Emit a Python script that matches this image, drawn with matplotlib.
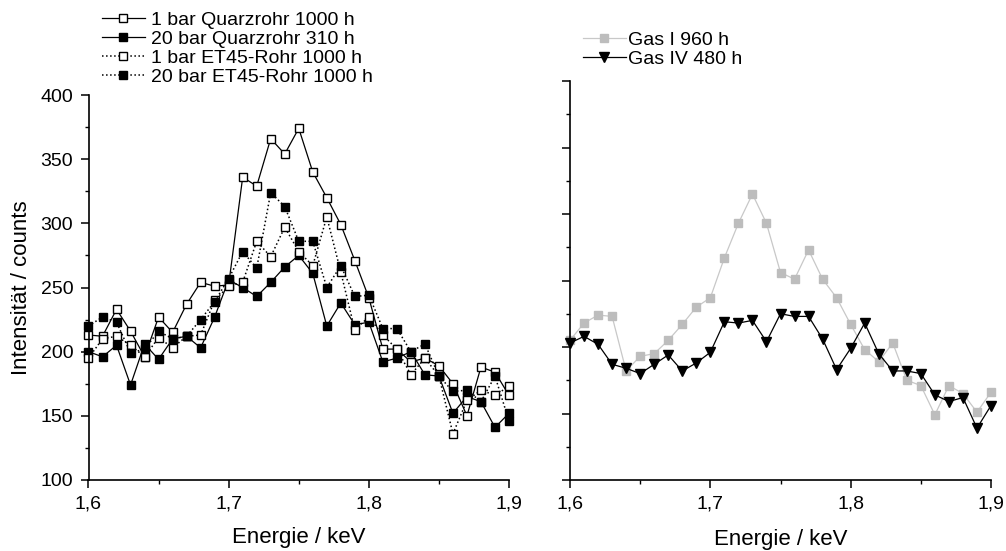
import matplotlib
matplotlib.use('Agg')
import matplotlib.pyplot as plt
from matplotlib.ticker import MultipleLocator, FuncFormatter, NullFormatter

plt.rcParams['font.family'] = ['Liberation Sans', 'DejaVu Sans']

# Energy axis (keV)
energy = [1.60, 1.61, 1.62, 1.63, 1.64, 1.65, 1.66, 1.67, 1.68, 1.69, 1.70,
          1.71, 1.72, 1.73, 1.74, 1.75, 1.76, 1.77, 1.78, 1.79, 1.80,
          1.81, 1.82, 1.83, 1.84, 1.85, 1.86, 1.87, 1.88, 1.89, 1.90]

# Left panel series (counts)
quarz_1bar = [213, 212, 233, 216, 196, 227, 215, 237, 254, 251, 252,
              336, 329, 366, 354, 374, 340, 320, 299, 271, 242,
              202, 202, 192, 195, 189, 175, 150, 188, 184, 166]
quarz_20bar = [200, 196, 205, 174, 206, 194, 210, 212, 203, 227, 256,
               250, 243, 254, 266, 275, 261, 220, 238, 221, 223,
               192, 195, 200, 182, 181, 152, 165, 161, 141, 152]
et45_1bar = [195, 210, 212, 205, 196, 211, 203, 212, 213, 240, 251,
             254, 286, 274, 297, 278, 267, 305, 262, 217, 227,
             213, 202, 182, 195, 181, 136, 162, 170, 166, 173]
et45_20bar = [220, 227, 223, 199, 202, 216, 210, 212, 225, 239, 257,
              278, 265, 324, 313, 286, 286, 250, 267, 243, 244,
              218, 218, 200, 206, 181, 169, 170, 161, 181, 146]

# Right panel series
gas1 = [205, 218, 224, 223, 182, 193, 195, 205, 217, 230, 237,
        267, 293, 315, 293, 256, 251, 273, 251, 237, 217,
        198, 189, 203, 175, 171, 149, 171, 165, 151, 166]
gas4 = [203, 208, 202, 187, 184, 180, 187, 194, 182, 188, 196,
        219, 218, 220, 204, 225, 223, 223, 206, 183, 199,
        218, 195, 182, 182, 180, 164, 159, 162, 139, 156]

left_labels = ['1 bar Quarzrohr 1000 h', '20 bar Quarzrohr 310 h',
               '1 bar ET45-Rohr 1000 h', '20 bar ET45-Rohr 1000 h']
right_labels = ['Gas I 960 h', 'Gas IV 480 h']
xlabel = 'Energie / keV'
ylabel = 'Intensität / counts'

W, H = 1006, 551
fig = plt.figure(figsize=(W / 100, H / 100), dpi=100)

def px(x0, y_top, x1, y_bot):
    return [x0 / W, 1 - y_bot / H, (x1 - x0) / W, (y_bot - y_top) / H]

axL = fig.add_axes(px(88.5, 95, 509, 480))
axR = fig.add_axes(px(570, 81, 991, 480))

ms = 6
lw = 0.9
hL = []
hL += axL.plot(energy, quarz_1bar, '-', color='black', lw=lw, marker='s', ms=ms,
               mfc='white', mec='black', mew=1.0, clip_on=False)
hL += axL.plot(energy, quarz_20bar, '-', color='black', lw=lw, marker='s', ms=ms,
               mfc='black', mec='black', clip_on=False)
hL += axL.plot(energy, et45_1bar, ':', color='black', lw=1.1, marker='s', ms=ms,
               mfc='white', mec='black', mew=1.0, clip_on=False)
hL += axL.plot(energy, et45_20bar, ':', color='black', lw=1.1, marker='s', ms=ms,
               mfc='black', mec='black', clip_on=False)

hR = []
hR += axR.plot(energy, gas1, '-', color='#c8c8c8', lw=lw, marker='s', ms=5.5,
               mfc='#bdbdbd', mec='#bdbdbd', clip_on=False)
hR += axR.plot(energy, gas4, '-', color='black', lw=lw, marker='v', ms=7,
               mfc='black', mec='black', clip_on=False)

fmt = FuncFormatter(lambda v, p: f"{v:.1f}".replace('.', ','))
for ax in (axL, axR):
    ax.set_xlim(1.6, 1.9)
    ax.set_ylim(100, 400)
    ax.xaxis.set_major_locator(MultipleLocator(0.1))
    ax.xaxis.set_minor_locator(MultipleLocator(0.05))
    ax.xaxis.set_major_formatter(fmt)
    ax.yaxis.set_major_locator(MultipleLocator(50))
    ax.yaxis.set_minor_locator(MultipleLocator(25))
    for s in ('top', 'right'):
        ax.spines[s].set_visible(False)
    for s in ('left', 'bottom'):
        ax.spines[s].set_linewidth(1.2)
    ax.tick_params(which='major', direction='out', length=6, width=1.1,
                   labelsize=14, pad=5)
    ax.tick_params(which='minor', direction='out', length=3, width=1.0)

axR.yaxis.set_major_formatter(NullFormatter())

fig.text(22 / W, 1 - 288 / H, ylabel, rotation=90, ha='center', va='center', fontsize=16)
fig.text(299 / W, 1 - 538 / H, xlabel, ha='center', va='center', fontsize=16)
fig.text(781 / W, 1 - 540 / H, xlabel, ha='center', va='center', fontsize=16)

fig.legend(hL, left_labels, loc='upper left', bbox_to_anchor=(102 / W, 1 - 11 / H),
           frameon=False, fontsize=14, borderpad=0, borderaxespad=0,
           handlelength=2.2, handletextpad=0.3, labelspacing=0.08, numpoints=1)
fig.legend(hR, right_labels, loc='upper left', bbox_to_anchor=(583 / W, 1 - 31 / H),
           frameon=False, fontsize=14, borderpad=0, borderaxespad=0,
           handlelength=2.2, handletextpad=0.1, labelspacing=0.08, numpoints=1)

fig.savefig('out.png', dpi=100)
